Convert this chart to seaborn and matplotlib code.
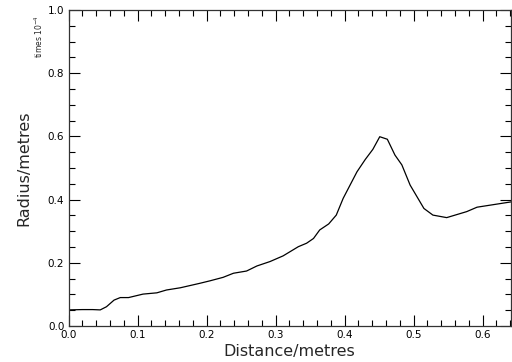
import numpy as np
import pandas as pd
import matplotlib
matplotlib.use("Agg")
import matplotlib.pyplot as plt
import seaborn as sns
from matplotlib.ticker import MultipleLocator

# distance along the vessel (metres) and radius (x 1e-4 metres)
distance = [0.0, 0.02, 0.035, 0.046, 0.055, 0.066, 0.075, 0.087, 0.108, 0.128,
            0.142, 0.162, 0.176, 0.19, 0.205, 0.224, 0.239, 0.258, 0.273, 0.292,
            0.311, 0.333, 0.345, 0.355, 0.364, 0.377, 0.388, 0.398, 0.418, 0.43,
            0.441, 0.451, 0.462, 0.473, 0.483, 0.495, 0.515, 0.528, 0.548, 0.577,
            0.592, 0.642]
radius = [0.051, 0.052, 0.052, 0.051, 0.061, 0.082, 0.09, 0.09, 0.101, 0.105,
          0.114, 0.121, 0.128, 0.135, 0.143, 0.154, 0.167, 0.174, 0.19, 0.204,
          0.222, 0.251, 0.262, 0.277, 0.304, 0.323, 0.351, 0.404, 0.488, 0.527,
          0.559, 0.599, 0.591, 0.541, 0.51, 0.446, 0.372, 0.351, 0.343, 0.362,
          0.376, 0.393]

df = pd.DataFrame({"Distance/metres": distance, "Radius/metres": radius})

sns.set_style("ticks")
plt.rcParams['font.family'] = ['DejaVu Sans']

fig = plt.figure(figsize=(5.12, 3.62), dpi=100)
ax = fig.add_axes([0.1338, 0.0994, 0.864, 0.873])
sns.lineplot(data=df, x="Distance/metres", y="Radius/metres", ax=ax,
             color="black", linewidth=0.9)

ax.set_xlim(0, 0.641)
ax.set_ylim(0, 1.0)
ax.xaxis.set_major_locator(MultipleLocator(0.1))
ax.xaxis.set_minor_locator(MultipleLocator(0.02))
ax.yaxis.set_major_locator(MultipleLocator(0.2))
ax.yaxis.set_minor_locator(MultipleLocator(0.05))
ax.xaxis.set_major_formatter(matplotlib.ticker.FormatStrFormatter("%.1f"))
ax.yaxis.set_major_formatter(matplotlib.ticker.FormatStrFormatter("%.1f"))
ax.tick_params(which="both", direction="in", top=True, right=True,
               colors="black", width=0.8, labelsize=7.5, pad=3)
ax.tick_params(which="major", length=8)
ax.tick_params(which="minor", length=4)
for s in ax.spines.values():
    s.set_linewidth(0.9)
    s.set_color("#333333")

ax.set_xlabel("Distance/metres", fontsize=11.5, labelpad=3)
ax.set_ylabel("Radius/metres", fontsize=11.5, labelpad=12)
fig.text(0.075, 0.9, r"times 10$^{-4}$", rotation=90, fontsize=5.5,
         ha="center", va="center")

fig.savefig("out.png", dpi=100)
